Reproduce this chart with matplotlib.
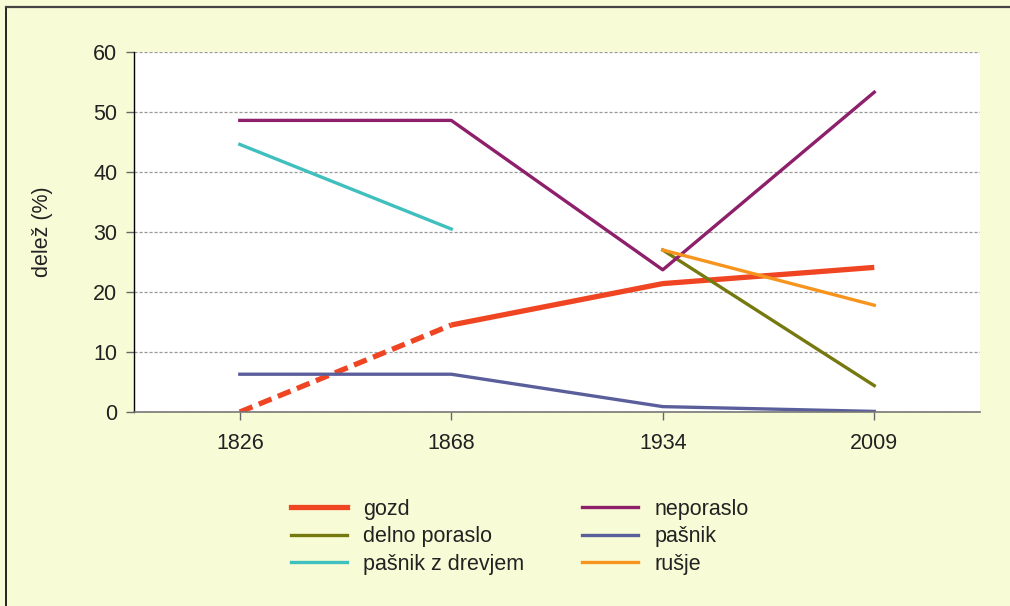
import matplotlib
matplotlib.use("Agg")
import matplotlib.pyplot as plt
from matplotlib.lines import Line2D
import numpy as np

plt.rcParams['font.family'] = ['Liberation Sans', 'DejaVu Sans']

years = ["1826", "1868", "1934", "2009"]
gozd = [0, 14.5, 21.4, 24.1]
delno_poraslo = [np.nan, np.nan, 27.0, 4.4]
pasnik_drevje = [44.6, 30.5, np.nan, np.nan]
neporaslo = [48.6, 48.6, 23.7, 53.3]
pasnik = [6.3, 6.3, 0.9, 0.1]
rusje = [np.nan, np.nan, 27.0, 17.8]

bg = '#F8FCD6'
fs = 15.5
x = np.arange(len(years))

fig = plt.figure(figsize=(10.1, 6.06), dpi=100, facecolor=bg)
ax = fig.add_axes([0.1327, 0.3201, 0.8376, 0.5941])
ax.set_facecolor('white')

# gozd: dashed first segment, solid after
ax.plot(x[:2], gozd[:2], color='#F04523', lw=3.8, dashes=(2.6, 1.3))
ax.plot(x[1:], gozd[1:], color='#F04523', lw=3.8, solid_capstyle='butt')
ax.plot(x, delno_poraslo, color='#76790F', lw=2.4)
ax.plot(x, pasnik_drevje, color='#3FC0BE', lw=2.4)
ax.plot(x, neporaslo, color='#8E1F6A', lw=2.4)
ax.plot(x, pasnik, color='#5A5F9C', lw=2.4)
ax.plot(x, rusje, color='#F7941D', lw=2.4)

ax.set_xlim(-0.5, 3.5)
ax.set_ylim(0, 60)
ax.set_xticks(x)
ax.set_xticklabels(years)
ax.set_yticks(range(0, 61, 10))
ax.yaxis.grid(True, color='#9A9A9A', linestyle=(0, (2.5, 1.5)), lw=0.9)
ax.set_axisbelow(True)

for s in ['top', 'right']:
    ax.spines[s].set_visible(False)
ax.spines['left'].set_color('black')
ax.spines['left'].set_linewidth(1.0)
ax.spines['bottom'].set_color('#777777')
ax.spines['bottom'].set_linewidth(1.2)
ax.tick_params(axis='both', length=6, color='#666666', labelsize=fs,
               labelcolor='#222222', width=1.0)
ax.tick_params(axis='y', pad=6)
ax.tick_params(axis='x', pad=9)
ax.set_ylabel('delež (%)', fontsize=fs, color='#222222', labelpad=29)

handles = [
    Line2D([], [], color='#F04523', lw=3.8),
    Line2D([], [], color='#76790F', lw=2.4),
    Line2D([], [], color='#3FC0BE', lw=2.4),
    Line2D([], [], color='#8E1F6A', lw=2.4),
    Line2D([], [], color='#5A5F9C', lw=2.4),
    Line2D([], [], color='#F7941D', lw=2.4),
]
labels = ['gozd', 'delno poraslo', 'pašnik z drevjem',
          'neporaslo', 'pašnik', 'rušje']
fig.legend(handles, labels, ncol=2, loc='upper left',
           bbox_to_anchor=(0.271, 0.205), frameon=False, fontsize=fs,
           handlelength=2.6, handletextpad=0.75, columnspacing=2.7,
           labelspacing=0.3, borderpad=0.3, labelcolor='#222222')

# figure border (left and top)
fig.add_artist(Line2D([0.006, 0.006], [0, 0.988], color='black', lw=1.2,
                      transform=fig.transFigure))
fig.add_artist(Line2D([0.006, 1], [0.988, 0.988], color='#444444', lw=1.6,
                      transform=fig.transFigure))

fig.savefig('out.png', dpi=100, facecolor=bg)
